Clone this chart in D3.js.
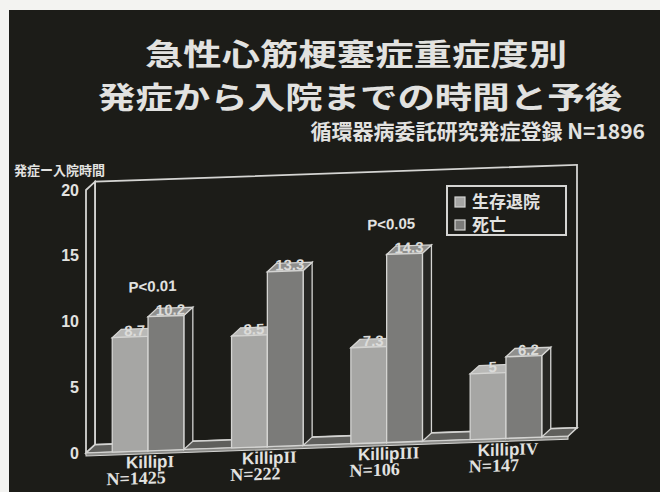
<!DOCTYPE html>
<html>
<head>
<meta charset="utf-8">
<script src="https://cdn.jsdelivr.net/npm/d3@7/dist/d3.min.js"></script>
<style>
  html, body { margin: 0; padding: 0; background: #f3f3f1; }
  svg { display: block; }
</style>
</head>
<body>
<svg id="chart" width="660" height="492"></svg>
<script>
// ---- data ----
const categories = ["KillipI", "KillipII", "KillipIII", "KillipIV"];
const groupSizes = ["N=1425", "N=222", "N=106", "N=147"];
const series = ["生存退院", "死亡"];
const survivedHours = [8.7, 8.5, 7.3, 5];
const diedHours = [10.2, 13.3, 14.3, 6.2];
const pLabels = ["P<0.01", "", "P<0.05", ""];
const yTicks = [0, 5, 10, 15, 20];
const titleLines = ["急性心筋梗塞症重症度別", "発症から入院までの時間と予後"];
const subtitle = "循環器病委託研究発症登録 N=1896";
const yAxisTitle = "発症ー入院時間";

// ---- layout ----
const W = 660, H = 492;
const plotLeft = 86, plotWidth = 482;
const DX = 9, DY = -8;             // 3D depth offset
const skewDeg = -2;
const cjk = "'Noto Sans CJK JP', 'Noto Sans', sans-serif";
const sans = "'Liberation Sans', Arial, sans-serif";
const serif = "'Liberation Serif', 'Times New Roman', serif";
const ink = "#e2e2e0";
const edge = "#d4d4d2";
const faceColors = {
  "生存退院": { front: "#a6a6a4", top: "#b9b9b7", side: "#2c2c29" },
  "死亡":     { front: "#7b7b79", top: "#8f8f8d", side: "#262623" }
};

const svg = d3.select("#chart");

// slide background with paper margin at top/left
svg.append("rect").attr("width", W).attr("height", H).attr("fill", "#f3f3f1");
svg.append("rect").attr("x", 9).attr("y", 10).attr("width", W - 9).attr("height", H - 10)
  .attr("fill", "#1c1c18");

// titles
const titleG = svg.append("g").attr("font-family", cjk).attr("font-weight", 700).attr("fill", ink);
titleG.append("text").attr("x", 356).attr("y", 65).attr("text-anchor", "middle")
  .attr("font-size", 30).attr("textLength", 422).attr("lengthAdjust", "spacingAndGlyphs")
  .text(titleLines[0]);
titleG.append("text").attr("x", 360).attr("y", 108).attr("text-anchor", "middle")
  .attr("font-size", 30).attr("textLength", 524).attr("lengthAdjust", "spacingAndGlyphs")
  .text(titleLines[1]);
titleG.append("text").attr("x", 645).attr("y", 139).attr("text-anchor", "end")
  .attr("font-size", 21).text(subtitle);

// y-axis title
svg.append("text").attr("x", 14).attr("y", 175)
  .attr("font-family", cjk).attr("font-weight", 700).attr("font-size", 13)
  .attr("fill", ink).text(yAxisTitle);

// ---- scales ----
const y = d3.scaleLinear().domain([0, 20]).range([453, 190]);
const x = d3.scaleBand().domain(categories).range([0, plotWidth])
  .paddingInner(0.4).paddingOuter(0.22);
const xs = d3.scaleBand().domain(series).range([0, x.bandwidth()]);

// y axis (ticks point into the chart)
const yAxis = d3.axisLeft(y).tickValues(yTicks).tickSizeInner(-4).tickSizeOuter(0).tickPadding(7);
const axisG = svg.append("g").attr("transform", `translate(${plotLeft},0)`).call(yAxis);
axisG.select(".domain").remove();
axisG.selectAll(".tick line").attr("stroke", edge).attr("stroke-width", 1.5);
axisG.selectAll(".tick text").attr("fill", ink).attr("font-family", sans)
  .attr("font-weight", 700).attr("font-size", 16);

// ---- 3D plot, slightly skewed ----
const plot = svg.append("g").attr("transform", `translate(${plotLeft},0) skewY(${skewDeg})`);
const pts = a => a.map(p => p.join(",")).join(" ");

// back wall
plot.append("rect")
  .attr("x", DX).attr("y", y(20) + DY)
  .attr("width", plotWidth).attr("height", y(0) - y(20))
  .attr("fill", "#1c1c18").attr("stroke", edge).attr("stroke-width", 1.8);

// left wall
plot.append("polygon")
  .attr("points", pts([[0, y(20)], [DX, y(20) + DY], [DX, y(0) + DY], [0, y(0)]]))
  .attr("fill", "#1e1e1a").attr("stroke", edge).attr("stroke-width", 1.8);

// floor slab
plot.append("polygon")
  .attr("points", pts([[0, y(0)], [DX, y(0) + DY], [plotWidth + DX, y(0) + DY], [plotWidth, y(0)]]))
  .attr("fill", "#5f5f5c").attr("stroke", edge).attr("stroke-width", 1.5);
plot.append("rect").attr("x", 0).attr("y", y(0)).attr("width", plotWidth).attr("height", 3)
  .attr("fill", "#8c8c89").attr("stroke", edge).attr("stroke-width", 1);

// bars
const barData = [];
categories.forEach((c, i) => {
  barData.push({ cat: c, s: series[0], v: survivedHours[i] });
  barData.push({ cat: c, s: series[1], v: diedHours[i] });
});

const bars = plot.selectAll("g.bar").data(barData).join("g").attr("class", "bar");
bars.each(function (d) {
  const g = d3.select(this);
  const x0 = x(d.cat) + xs(d.s), x1 = x0 + xs.bandwidth();
  const yt = y(d.v), yb = y(0);
  const col = faceColors[d.s];
  g.append("polygon")
    .attr("points", pts([[x1, yt], [x1 + DX, yt + DY], [x1 + DX, yb + DY], [x1, yb]]))
    .attr("fill", col.side).attr("stroke", edge).attr("stroke-width", 1.3);
  g.append("polygon")
    .attr("points", pts([[x0, yt], [x0 + DX, yt + DY], [x1 + DX, yt + DY], [x1, yt]]))
    .attr("fill", col.top).attr("stroke", edge).attr("stroke-width", 1.3);
  g.append("rect").attr("x", x0).attr("y", yt).attr("width", x1 - x0).attr("height", yb - yt)
    .attr("fill", col.front).attr("stroke", edge).attr("stroke-width", 1.3);
});

// value labels on bar tops
plot.selectAll("text.val").data(barData).join("text").attr("class", "val")
  .attr("x", d => x(d.cat) + xs(d.s) + xs.bandwidth() / 2 + DX / 2)
  .attr("y", d => y(d.v) - 1)
  .attr("text-anchor", "middle")
  .attr("font-family", sans).attr("font-weight", 700).attr("font-size", 15)
  .attr("fill", "#dcdcda")
  .text(d => d.v);

// significance labels
plot.selectAll("text.p").data(categories.map((c, i) => ({ c, t: pLabels[i], m: Math.max(survivedHours[i], diedHours[i]) })).filter(d => d.t))
  .join("text").attr("class", "p")
  .attr("x", d => x(d.c) + x.bandwidth() / 2 + DX / 2)
  .attr("y", d => y(d.m + 1.9))
  .attr("text-anchor", "middle")
  .attr("font-family", sans).attr("font-weight", 700).attr("font-size", 15)
  .attr("fill", ink).text(d => d.t);

// category labels: "Killip" + roman numeral
const catText = plot.selectAll("text.cat").data(categories).join("text").attr("class", "cat")
  .attr("x", d => x(d) + x.bandwidth() / 2 + 2)
  .attr("y", y(0) + 17)
  .attr("text-anchor", "middle")
  .attr("font-weight", 700).attr("font-size", 17).attr("fill", ink);
catText.append("tspan").attr("font-family", sans).text(d => d.slice(0, 6));
catText.append("tspan").attr("font-family", serif).text(d => d.slice(6));

plot.selectAll("text.n").data(categories).join("text").attr("class", "n")
  .attr("x", (d) => x(d) + x.bandwidth() / 2 - 12)
  .attr("y", y(0) + 33)
  .attr("text-anchor", "middle")
  .attr("font-family", serif).attr("font-weight", 700).attr("font-size", 18)
  .attr("fill", ink)
  .text((d, i) => groupSizes[i]);

// legend
const lg = svg.append("g");
lg.append("rect").attr("x", 447).attr("y", 186).attr("width", 119).attr("height", 49)
  .attr("fill", "#1c1c18").attr("stroke", edge).attr("stroke-width", 2);
series.forEach((s, i) => {
  lg.append("rect").attr("x", 455).attr("y", 197 + i * 23).attr("width", 10).attr("height", 10)
    .attr("fill", faceColors[s].front).attr("stroke", edge).attr("stroke-width", 1.2);
  lg.append("text").attr("x", 472).attr("y", 208 + i * 23)
    .attr("font-family", cjk).attr("font-weight", 700).attr("font-size", 17)
    .attr("fill", ink).text(s);
});
</script>
</body>
</html>
